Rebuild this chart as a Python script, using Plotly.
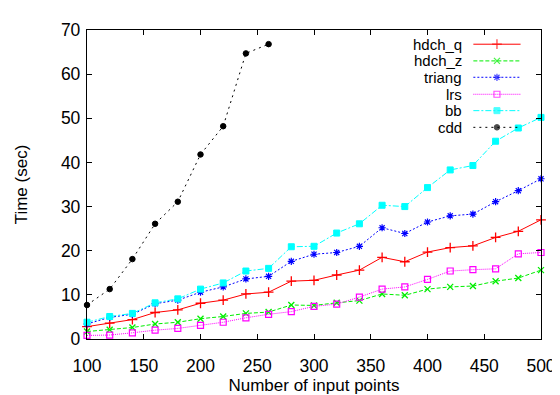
import plotly.graph_objects as go

n_points = [100, 120, 140, 160, 180, 200, 220, 240, 260, 280, 300,
            320, 340, 360, 380, 400, 420, 440, 460, 480, 500]

hdch_q = [2.8, 3.6, 4.4, 6.0, 6.6, 8.1, 8.8, 10.2, 10.6, 13.1, 13.3,
          14.5, 15.6, 18.5, 17.5, 19.7, 20.7, 21.1, 23.0, 24.4, 27.0]
hdch_z = [1.7, 2.1, 2.6, 3.4, 3.8, 4.6, 5.1, 5.8, 6.1, 7.7, 7.6,
          8.2, 8.7, 10.2, 9.9, 11.3, 11.8, 12.0, 13.1, 13.8, 15.6]
triang = [3.4, 4.9, 5.6, 8.0, 8.8, 10.6, 11.8, 13.6, 14.2, 17.6, 19.2,
          19.6, 21.0, 25.2, 23.9, 26.5, 27.9, 28.3, 31.1, 33.6, 36.3]
lrs = [0.8, 0.9, 1.4, 2.0, 2.4, 3.1, 3.8, 4.8, 5.6, 6.2, 7.4,
       7.9, 9.5, 11.3, 11.8, 13.5, 15.4, 15.7, 15.9, 19.3, 19.6]
bb = [3.8, 5.1, 5.8, 8.2, 9.1, 11.3, 12.7, 15.4, 16.0, 20.9, 21.0,
      24.0, 26.1, 30.3, 30.0, 34.3, 38.3, 39.3, 44.8, 47.8, 50.2]
cdd_points = [100, 120, 140, 160, 180, 200, 220, 240, 260]
cdd = [7.7, 11.3, 18.1, 26.1, 31.1, 41.8, 48.2, 64.7, 66.8]

series = [
    ("hdch_q", n_points, hdch_q, "#ff0000", "solid", "cross-thin", 7, 1.3),
    ("hdch_z", n_points, hdch_z, "#00ee00", "4px,2px", "x-thin", 6, 1.3),
    ("triang", n_points, triang, "#0000ff", "2px,2px", "asterisk", 6, 1.2),
    ("lrs", n_points, lrs, "#ff00ff", "1px,1px", "square-open", 6, 1.2),
    ("bb", n_points, bb, "#00ffff", "6px,2px,2px,2px", "square", 6, 1),
    ("cdd", cdd_points, cdd, "#000000", "2px,4px", "circle", 5.5, 1),
]

FONT = "Liberation Sans, Arial, Helvetica, sans-serif"
fig = go.Figure()

for name, xs, ys, col, dash, sym, msize, mlw in series:
    fig.add_trace(go.Scatter(
        x=xs, y=ys, mode="lines+markers", name=name, showlegend=False,
        cliponaxis=False,
        line=dict(color=col, width=1, dash=dash),
        marker=dict(symbol=sym, size=msize, color=col,
                    line=dict(color=col, width=mlw)),
    ))

# manual gnuplot-style legend (text right, sample to the right)
row_y = [0.954, 0.900, 0.847, 0.792, 0.739, 0.685]
annotations = []
for (name, xs, ys, col, dash, sym, msize, mlw), ry in zip(series, row_y):
    fig.add_trace(go.Scatter(
        x=[0.851, 0.903, 0.955], y=[ry, ry, ry], xaxis="x2", yaxis="y2",
        mode="lines+markers", showlegend=False, hoverinfo="skip",
        line=dict(color=col, width=1, dash=dash),
        marker=dict(symbol=sym, size=[0, msize, 0], color=col,
                    line=dict(color=col, width=mlw)),
    ))
    annotations.append(dict(
        x=0.828, y=ry, xref="paper", yref="paper", text=name,
        showarrow=False, xanchor="right", yanchor="middle", borderpad=0,
        font=dict(family=FONT, size=15, color="black"),
    ))

axis_common = dict(
    showline=True, linecolor="black", linewidth=1.3, mirror="ticks",
    ticks="inside", ticklen=5, tickwidth=1, tickcolor="black",
    showgrid=False, zeroline=False,
    tickfont=dict(family=FONT, size=17.5, color="black"),
)

fig.update_layout(
    width=560, height=395,
    margin=dict(l=79, r=18, t=15, b=54),
    paper_bgcolor="white", plot_bgcolor="white",
    showlegend=False,
    annotations=annotations,
    xaxis=dict(range=[100, 500], dtick=50, tick0=100,
               ticklabelstandoff=11,
               title=dict(text="Number of input points", standoff=3,
                          font=dict(family=FONT, size=17, color="black")),
               **axis_common),
    yaxis=dict(range=[0, 70], dtick=10, tick0=0,
               ticklabelstandoff=2,
               title=dict(text="Time (sec)", standoff=28,
                          font=dict(family=FONT, size=17, color="black")),
               **axis_common),
    xaxis2=dict(range=[0, 1], overlaying="x", visible=False, fixedrange=True),
    yaxis2=dict(range=[0, 1], overlaying="y", visible=False, fixedrange=True),
)

fig.write_html("out.html")
